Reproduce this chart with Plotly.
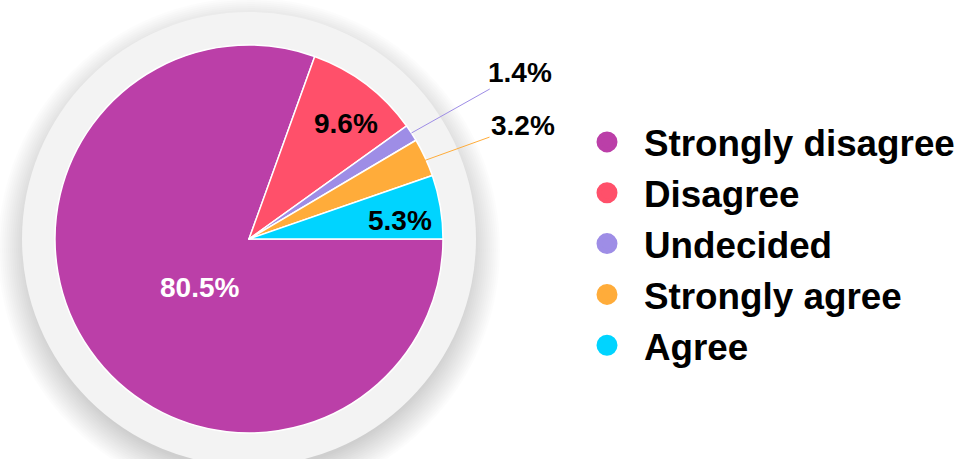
import math
import plotly.graph_objects as go

# ---- data ----
categories = ["Strongly disagree", "Disagree", "Undecided", "Strongly agree", "Agree"]
values = [80.5, 9.6, 1.4, 3.2, 5.3]
colors = ["#BB3FA8", "#FF506A", "#9E8DE6", "#FFAC3A", "#00D4FF"]

# ---- layout constants (pixels) ----
W, H = 964, 459
CX, CY, R = 249, 239, 194          # pie centre / radius
BG_R = 227                          # grey disc radius
FONT = "Liberation Sans, Arial, sans-serif"

def px2x(px):
    return px / W

def px2y(py):
    return 1 - py / H

# slice geometry computed from data (clockwise from 3 o'clock)
total = sum(values)
mid_angles = []
start = 0.0
for v in values:
    sweep = 360.0 * v / total
    mid_angles.append(start - sweep / 2)   # clockwise => negative
    start -= sweep

def polar(ang_deg, r):
    a = math.radians(ang_deg)
    return CX + r * math.cos(a), CY - r * math.sin(a)

fig = go.Figure()

fig.add_trace(go.Pie(
    labels=categories, values=values, sort=False,
    direction="clockwise", rotation=90,
    marker=dict(colors=colors, line=dict(color="white", width=1.5)),
    textinfo="none", hoverinfo="label+percent", showlegend=False,
    domain=dict(x=[px2x(CX - R), px2x(CX + R)], y=[px2y(CY + R), px2y(CY - R)]),
))

# legend entries (circle markers)
for name, c in zip(categories, colors):
    fig.add_trace(go.Scatter(
        x=[None], y=[None], mode="markers", name=name,
        marker=dict(size=16, color=c, line=dict(color=c, width=5)),
    ))

annotations = []
# inside labels: (radius factor, colour, x nudge, y nudge)
inside = {0: (0.36, "white", 8, -8), 1: (0.77, "black", 7, -4), 4: (0.78, "black", 2, -7)}
for i, (rf, col, dx, dy) in inside.items():
    px, py = polar(mid_angles[i], rf * R)
    annotations.append(dict(
        x=px2x(px), y=px2y(py), xref="paper", yref="paper",
        xanchor="center", yanchor="middle", xshift=dx, yshift=dy,
        text=f"{values[i]:.1f}%", showarrow=False,
        font=dict(family=FONT, size=28, color=col, weight="bold"),
    ))

# outside labels with leader lines
outside = {2: (1.0, (520, 72)), 3: (0.84, (523, 125))}
for i, (rf, (lx, ly)) in outside.items():
    tx, ty = polar(mid_angles[i], rf * R)
    annotations.append(dict(
        x=px2x(tx), y=px2y(ty), xref="paper", yref="paper",
        ax=lx - tx, ay=ly - ty, axref="pixel", ayref="pixel",
        xanchor="center", yanchor="middle",
        text=f"{values[i]:.1f}%", showarrow=True, arrowhead=0,
        arrowwidth=1, arrowcolor=colors[i], standoff=0,
        font=dict(family=FONT, size=28, color="black", weight="bold"),
    ))

shapes = []
# soft drop shadow
for k in range(16):
    rr = BG_R - 6 + k * 2
    shapes.append(dict(
        type="circle", xref="paper", yref="paper", layer="below",
        x0=px2x(CX - rr), x1=px2x(CX + rr),
        y0=px2y(CY + 10 + rr), y1=px2y(CY + 10 - rr),
        fillcolor="rgba(0,0,0,0.011)", line=dict(width=0),
    ))
shapes.append(dict(
    type="circle", xref="paper", yref="paper", layer="below",
    x0=px2x(CX - BG_R), x1=px2x(CX + BG_R),
    y0=px2y(CY + BG_R), y1=px2y(CY - BG_R),
    fillcolor="#F3F3F3", line=dict(width=0),
))

fig.update_layout(
    width=W, height=H,
    margin=dict(l=0, r=0, t=0, b=0),
    paper_bgcolor="white", plot_bgcolor="rgba(0,0,0,0)",
    xaxis=dict(visible=False), yaxis=dict(visible=False),
    shapes=shapes, annotations=annotations,
    legend=dict(
        x=px2x(570), y=px2y(244), xanchor="left", yanchor="middle",
        font=dict(family=FONT, size=36.8, color="black", weight="bold"),
        itemwidth=64, bgcolor="rgba(0,0,0,0)",
    ),
)

fig.write_html("out.html", config={"displayModeBar": False},
               post_script="document.body.style.margin='0';")
